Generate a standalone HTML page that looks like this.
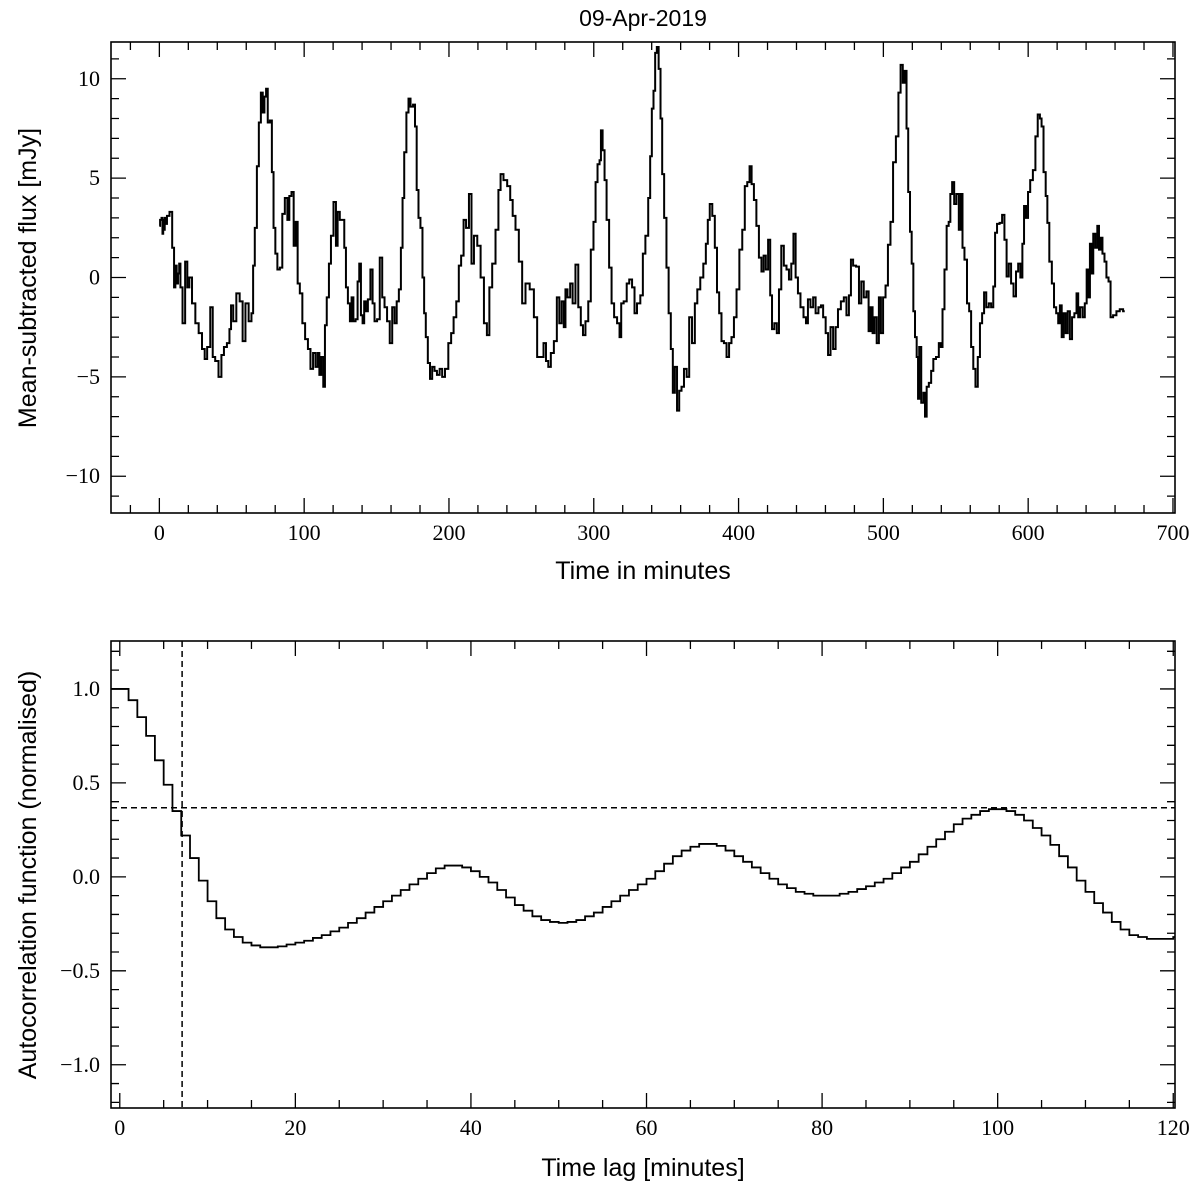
<!DOCTYPE html>
<html><head><meta charset="utf-8"><style>
html,body{margin:0;padding:0;background:#fff;}
svg{display:block;}
.tk{font-family:"Liberation Serif",serif;font-size:22px;fill:#000;}
.lb{font-family:"Liberation Sans",sans-serif;font-size:25px;fill:#000;}
</style></head><body>
<svg id="fig" width="1200" height="1199" viewBox="0 0 1200 1199" xmlns="http://www.w3.org/2000/svg">
<text class="lb" x="643" y="26" text-anchor="middle" style="font-size:23px">09-Apr-2019</text>
<g id="top"></g>
<g id="bot"></g>
<text class="lb" x="643" y="579" text-anchor="middle">Time in minutes</text>
<text class="lb" transform="translate(36,278) rotate(-90)" text-anchor="middle">Mean-subtracted flux [mJy]</text>
<text class="lb" x="643" y="1176" text-anchor="middle">Time lag [minutes]</text>
<text class="lb" transform="translate(36,875) rotate(-90)" text-anchor="middle">Autocorrelation function (normalised)</text>
</svg>
<script>
const lcTime=[0,1,2,2.3,3,3.4,4,4.5,6,8,9.7,10.6,11.5,12.4,13.3,14.1,15,17,18.6,20,21.4,23.7,26,28.3,30.6,32,34,36.3,37.4,39.7,42,43.7,45.5,47.8,49,50,52,54.3,56.6,58.4,60.5,62.8,64.4,65.1,66.7,68,69.4,70.8,72,73.1,74.3,75.4,77.2,78.2,79.5,80.7,82.3,84.1,85.7,87.6,89.2,90.3,92.2,93.3,95,96,98,99.5,101.8,103.4,105.3,107,108.7,110,111,112.6,113.8,114.9,116.3,117.9,119.1,121.4,122.5,123.7,125.5,127.1,128.3,129.4,131,132.2,133.3,134.7,136.3,137.5,138.6,139.8,140.9,142,143.2,144.8,146.7,147.8,149.4,151.3,153.1,154.7,156.3,158.2,160,161.6,163.2,164.6,166.2,167.4,168.5,169.7,171.5,172.6,174.3,176.1,177,178.4,179.5,181.1,182.3,183.4,184.6,186.2,187.6,189.2,190.8,192.6,194.5,196.1,198.4,200.7,202.3,204.1,206,207.6,209.2,211,212.6,215,216.1,218.4,220.7,223,225.3,227.1,228.7,231,233.3,235,236.3,239,241.4,243.2,244.8,247.1,249.4,251.7,254,257.5,259.8,262,264.4,266.2,267.8,269.4,271.3,273.6,275.4,277,278.6,280,280.9,282.8,284.6,286.2,288.5,290.1,292,293.1,295.4,297,298.9,300.7,301.8,303.4,304.6,305.3,306.9,308,309.7,311.5,313.1,315,317.2,318.4,319.5,321.8,323.7,325.3,327.6,328.7,331,333.3,334.5,336.8,338.4,339.5,340.7,341.8,343,344.1,345.5,346.7,347.8,349.4,351,352.4,354,355.2,356.8,358.2,359.8,361.4,363.2,365.1,366.7,369,370.6,372.4,374.7,376.6,378.2,379.3,380.9,382.8,384.4,385.8,387.4,389,390.8,392.6,394.3,395.9,397.7,399.5,401.6,403.5,405.1,406.9,408.3,409.7,411.5,413.1,415,416.6,418,419.6,421.2,422.5,423.7,425.7,427.1,428.7,430.3,432.2,434,435.6,437.2,438.6,440.2,441.8,443.7,446,447.1,448.7,450.6,452.4,454,456.3,457.5,459.3,461,462.6,464.4,466.2,467.8,469.5,471.8,473.6,475.4,477,478.2,480,482.3,484,485.5,487.4,489.2,490.4,492,493.1,494.7,496.1,497.7,498.9,500.7,502.3,504,505.8,507.6,509.7,511.1,512.7,514.1,515.4,516.6,517.7,519.1,520,521.4,522.3,523.7,524.2,525.3,527,528.3,529.2,530.6,532.2,533.8,535.2,537.5,539.1,540.3,541.4,543,544.4,545.8,546.7,548.3,549.5,551.3,552.9,554.1,555.2,556.8,558.7,559.8,561.4,562.8,564.4,566,567.4,569,570.1,572,573.6,575.2,576.6,577.7,579.3,581.2,582.8,584.4,585.8,587.4,589,590.8,592.4,593.8,595.4,596.6,597.7,599.3,600.5,602.3,604.2,605.8,607.4,608.8,609.7,611.5,612.7,613.8,615.4,617.3,618.4,620.3,621.2,622.6,623.7,625.3,626.5,628.1,629.5,631.1,632.7,634.1,635,636.8,638.4,639.8,641,642.1,643.2,644.4,645.5,647.2,648.3,649.5,650.6,652,653.4,654.7,656.3,657.5,659.8,662.1,664.4,666.7];
const lcFlux=[2.6,2.9,3.0,2.2,2.9,2.4,3.0,2.7,3.1,3.3,1.5,-0.5,0.6,-0.3,0.2,0.7,-0.5,-2.3,0.8,-0.5,0,-1.3,-2.3,-2.8,-3.6,-4.1,-3.5,-1.5,-4,-4.2,-5,-3.9,-3.5,-3.3,-2.6,-1.4,-2.2,-0.8,-1.2,-3.2,-1.3,-2.2,-1.8,0.6,2.5,5.6,7.8,9.3,8.3,9.1,9.5,7.8,7.9,5.3,2.5,1.2,0.4,0.5,3.2,4.0,2.9,4.1,4.3,1.6,2.8,-0.3,-0.8,-2.3,-3.1,-3.6,-4.6,-3.8,-4.5,-3.8,-4.9,-4.0,-5.5,-2.4,-1.0,0.7,2.1,3.8,1.6,3.3,2.9,2.9,1.5,-0.5,-1.3,-2.2,-1.0,-2.2,-2.1,-0.2,0.7,-1.9,-2.3,-1.2,-1.7,-1.1,0.4,-1.3,-2.2,-2.1,1.0,-1.0,-1.5,-2.2,-3.3,-1.5,-2.3,-1.2,-0.6,1.5,4.0,6.3,8.3,9.0,8.6,8.7,7.6,4.4,3.0,2.5,0,-1.8,-3.0,-4.3,-5.1,-4.5,-4.7,-4.9,-4.6,-5.0,-4.6,-3.3,-2.8,-2.0,-1.2,0.6,1.1,2.9,2.5,4.2,0.7,2.1,1.6,0.0,-2.3,-2.9,-0.5,0.7,2.4,4.4,5.2,4.9,4.6,3.9,3.1,2.4,0.8,-1.3,-0.3,-0.6,-2.0,-4.0,-4.0,-3.3,-4.2,-4.5,-3.8,-3.2,-1.0,-2.3,-1.2,-2.5,-0.6,-1.0,-0.3,-1.3,0.65,-1.5,-2.4,-2.9,-2.2,-1.2,1.4,2.8,4.8,5.7,5.9,7.4,6.4,4.9,2.9,0.5,-1.3,-2.0,-2.3,-3.0,-1.3,-1.2,-0.3,-0.1,-0.5,-1.8,-1.3,-0.9,1.2,2.1,4.0,6.1,8.5,9.4,11.3,11.6,10.5,8.0,5.2,3.0,0.5,-1.8,-3.6,-5.8,-4.5,-6.7,-5.7,-5.5,-4.6,-5.0,-2.0,-3.3,-1.3,-0.6,0,0.7,1.7,2.9,3.7,3.1,1.5,-0.75,-1.8,-3.2,-3.3,-4.0,-3.3,-3.0,-2.0,-0.6,1.4,2.4,4.6,4.8,5.6,4.7,3.9,2.6,1.0,0.3,1.1,0.4,1.9,-0.9,-2.6,-2.3,-2.8,-0.6,1.6,0.6,0.4,-0.1,0.7,2.2,0,-0.8,-1.5,-2.0,-2.3,-1.1,-1.5,-1.0,-1.8,-1.5,-1.4,-2.0,-2.8,-3.9,-2.5,-3.6,-2.5,-1.6,-1.2,-1.0,-1.9,-0.9,0.9,0.6,0.55,-1.3,-0.2,-1.0,-0.7,-2.7,-1.5,-2.8,-2.0,-3.3,-1.0,-2.8,-1.0,-0.4,1.65,2.8,5.8,7.1,9.3,10.7,9.8,10.4,7.5,4.3,2.3,0.7,-1.7,-3.0,-4.0,-6.1,-3.5,-6.3,-5.8,-7.0,-5.5,-5.3,-4.7,-4.1,-4.0,-3.3,-3.5,-1.6,0.4,2.6,2.8,4.2,4.8,3.7,4.2,2.4,4.2,1.5,0.9,-1.3,-1.7,-3.5,-4.6,-5.5,-4.0,-2.3,-1.8,-0.75,-1.5,-1.3,-1.5,-0.45,2.25,2.7,2.75,3.15,1.9,0.05,0.7,-0.3,-0.95,0.3,0.7,0.0,1.7,3.6,3.0,4.3,4.9,5.4,7.1,8.2,8.0,7.6,5.3,4.1,2.75,0.8,-0.3,-1.5,-1.8,-2.3,-1.4,-3.0,-1.8,-2.8,-1.7,-3.1,-2.0,-1.8,-0.8,-2.0,-1.5,-2.0,-1.3,0.4,-1.0,1.7,0.2,2.2,1.5,2.6,1.4,2.0,1.2,0.8,0.0,-0.2,-2.0,-1.9,-1.7,-1.6,-1.7];

const acfLag=[];for(let i=0;i<=120;i++)acfLag.push(i);
const acfValue=[1.0,0.94,0.85,0.75,0.62,0.49,0.35,0.22,0.10,-0.02,-0.13,-0.22,-0.28,-0.32,-0.35,-0.365,-0.375,-0.375,-0.37,-0.36,-0.35,-0.34,-0.325,-0.31,-0.29,-0.27,-0.245,-0.22,-0.19,-0.16,-0.13,-0.10,-0.07,-0.04,-0.01,0.02,0.045,0.06,0.06,0.05,0.03,0.0,-0.03,-0.07,-0.11,-0.15,-0.18,-0.21,-0.23,-0.24,-0.245,-0.24,-0.23,-0.21,-0.19,-0.16,-0.13,-0.10,-0.07,-0.04,-0.01,0.03,0.07,0.11,0.14,0.16,0.175,0.175,0.165,0.14,0.11,0.08,0.05,0.02,-0.01,-0.04,-0.06,-0.08,-0.09,-0.10,-0.10,-0.10,-0.09,-0.08,-0.065,-0.05,-0.03,-0.01,0.02,0.05,0.08,0.12,0.16,0.20,0.24,0.28,0.31,0.33,0.35,0.36,0.36,0.35,0.33,0.30,0.26,0.22,0.17,0.11,0.05,-0.02,-0.08,-0.14,-0.19,-0.24,-0.28,-0.31,-0.32,-0.33,-0.33,-0.33,-0.32];
const acfThreshold=[0.368];
const acfCrossLag=[7.1];

const topXTicks=[0,100,200,300,400,500,600,700];
const topYTicks=[-10,-5,0,5,10];
const botXTicks=[0,20,40,60,80,100,120];
const botYTicks=[-1.0,-0.5,0.0,0.5,1.0];

const NS="http://www.w3.org/2000/svg";
function mk(tag,attrs,parent){const e=document.createElementNS(NS,tag);for(const k in attrs)e.setAttribute(k,attrs[k]);parent.appendChild(e);return e;}
function fmt(v,d){const s=Math.abs(v).toFixed(d);return (v<0?"\u2212":"")+s;}

function panel(g,box,xr,yr,xt,yt,xMinor,yMinor,xd,yd){
  const sx=v=>box.l+(v-xr[0])/(xr[1]-xr[0])*(box.r-box.l);
  const sy=v=>box.b-(v-yr[0])/(yr[1]-yr[0])*(box.b-box.t);
  const fr=mk('rect',{x:box.l,y:box.t,width:box.r-box.l,height:box.b-box.t,fill:'none',stroke:'#000','stroke-width':1.6},g);
  
  
  let p="";
  for(let v=Math.ceil(xr[0]/xMinor)*xMinor;v<=xr[1]+1e-9;v+=xMinor){
    const x=sx(v);const maj=xt.some(t=>Math.abs(t-v)<1e-6);const L=maj?15:8;
    p+=`M${x},${box.b}v${-L}M${x},${box.t}v${L}`;
  }
  for(let v=Math.ceil(yr[0]/yMinor-1e-9)*yMinor;v<=yr[1]+1e-9;v+=yMinor){
    const y=sy(v);const maj=yt.some(t=>Math.abs(t-v)<1e-6);const L=maj?15:8;
    p+=`M${box.l},${y}h${L}M${box.r},${y}h${-L}`;
  }
  const tk=mk('path',{d:p,stroke:'#000','stroke-width':1.3,fill:'none'},g);
  
  
  xt.forEach(v=>{const t=mk('text',{x:sx(v),y:box.b+27,'text-anchor':'middle',class:'tk'},g);t.textContent=fmt(v,xd);
    
    });
  yt.forEach(v=>{const t=mk('text',{x:box.l-11,y:sy(v)+7,'text-anchor':'end',class:'tk'},g);t.textContent=fmt(v,yd);
    
    });
  return {sx,sy};
}

const gt=document.getElementById('top');
const T=panel(gt,{l:111,r:1175,t:42,b:513},[-33.4,701.4],[-11.85,11.85],topXTicks,topYTicks,20,1,0,0);
let d="";
for(let i=0;i<lcTime.length;i++){
  const xa=i===0?T.sx(lcTime[0]):T.sx((lcTime[i-1]+lcTime[i])/2);
  const xb=i===lcTime.length-1?T.sx(lcTime[i]):T.sx((lcTime[i]+lcTime[i+1])/2);
  const y=T.sy(lcFlux[i]);
  d+=(i===0?`M${xa},${y}`:`L${xa},${y}`)+`L${xb},${y}`;
}
const lc=mk('path',{d:d,fill:'none',stroke:'#000','stroke-width':2,'stroke-linejoin':'miter'},gt);



const gb=document.getElementById('bot');
const B=panel(gb,{l:111,r:1175,t:641,b:1108},[-1,120.2],[-1.23,1.255],botXTicks,botYTicks,5,0.1,0,1);
let d2=`M${B.sx(-1)},${B.sy(acfValue[0])}`;
for(let i=0;i<acfLag.length;i++){
  const y=B.sy(acfValue[i]);
  const xb=B.sx(Math.min(acfLag[i]+1,120.2));
  d2+=`L${B.sx(acfLag[i])},${y}L${xb},${y}`;
}
const ac=mk('path',{d:d2,fill:'none',stroke:'#000','stroke-width':1.8},gb);


const hl=mk('line',{x1:B.sx(-1),x2:B.sx(120.2),y1:B.sy(acfThreshold[0]),y2:B.sy(acfThreshold[0]),stroke:'#000','stroke-width':1.5,'stroke-dasharray':'6,4'},gb);


const vl=mk('line',{x1:B.sx(acfCrossLag[0]),x2:B.sx(acfCrossLag[0]),y1:B.sy(1.255),y2:B.sy(-1.23),stroke:'#000','stroke-width':1.5,'stroke-dasharray':'6,4'},gb);


</script>
</body></html>
